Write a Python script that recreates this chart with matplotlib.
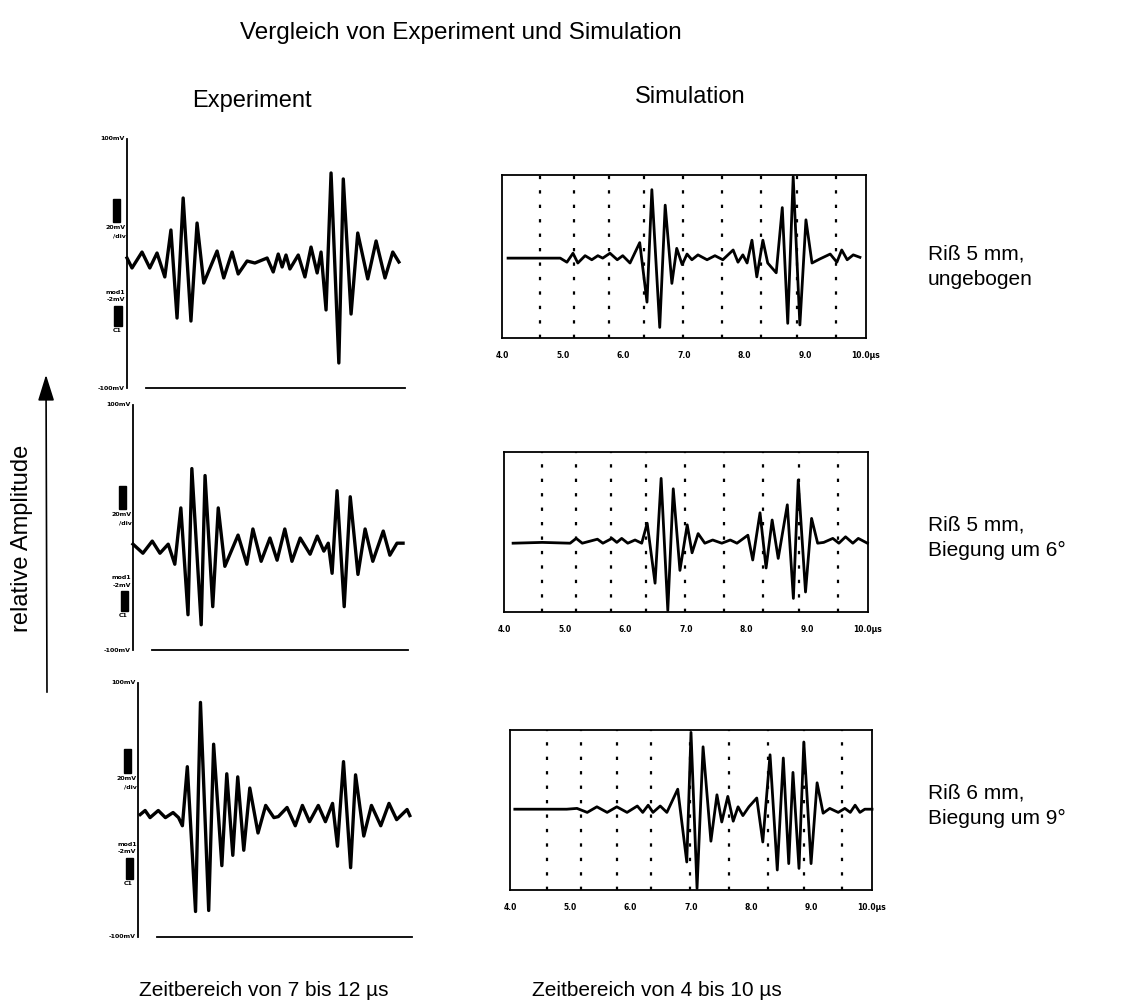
import matplotlib
matplotlib.use('Agg')
import matplotlib.pyplot as plt
from matplotlib.patches import Rectangle, FancyArrowPatch

plt.rcParams['font.family'] = ['Liberation Sans', 'DejaVu Sans']

W, H = 1123, 1007

# ---- Experiment (oscilloscope traces, 7..12 us, mV) : peaks / troughs
exp1_t = [7.00, 7.09, 7.27, 7.41, 7.54, 7.68, 7.79, 7.90, 8.01, 8.15, 8.26, 8.38, 8.62, 8.74,
          8.89, 9.00, 9.16, 9.30, 9.52, 9.63, 9.72, 9.79, 9.86, 9.93, 10.08, 10.20, 10.31,
          10.42, 10.49, 10.58, 10.67, 10.81, 10.89, 11.03, 11.15, 11.33, 11.48, 11.64, 11.78, 11.89]
exp1_a = [4.4, -3.6, 9.2, -3.6, 8.4, -10.8, 26.9, -43.8, 52.6, -46.2, 32.5, -15.7, 10.0, -11.6,
          9.2, -8.4, 2.0, 0.4, 4.4, -6.8, 7.6, -2.8, 6.8, -4.4, 6.8, -10.8, 13.2,
          -7.6, 9.2, -37.3, 72.7, -79.9, 67.9, -40.6, 24.5, -12.4, 18.1, -11.6, 9.2, 1.2]

exp2_t = [7.00, 7.18, 7.35, 7.49, 7.64, 7.76, 7.87, 8.00, 8.07, 8.24, 8.31, 8.45, 8.55, 8.67,
          8.91, 9.07, 9.18, 9.33, 9.49, 9.62, 9.76, 9.89, 10.04, 10.22, 10.35, 10.47, 10.55,
          10.62, 10.71, 10.84, 10.95, 11.09, 11.22, 11.36, 11.55, 11.67, 11.80, 11.91]
exp2_a = [-13.6, -21.0, -11.1, -21.0, -13.6, -30.0, 16.0, -71.2, 48.1, -79.4, 42.4, -64.6, 16.0, -31.7,
          -6.2, -30.0, -1.2, -27.6, -8.6, -26.7, -1.2, -27.6, -8.6, -21.8, -7.0, -19.3, -12.8,
          -37.4, 30.0, -64.6, 25.1, -38.3, -1.2, -27.6, -2.9, -22.6, -12.8, -12.8]

exp3_t = [7.04, 7.13, 7.22, 7.37, 7.50, 7.64, 7.74, 7.81, 7.90, 8.05, 8.14, 8.29, 8.38, 8.53,
          8.62, 8.73, 8.82, 8.93, 9.04, 9.19, 9.33, 9.48, 9.56, 9.72, 9.87, 10.00, 10.13, 10.29,
          10.42, 10.55, 10.64, 10.75, 10.88, 10.97, 11.12, 11.26, 11.43, 11.58, 11.72, 11.91, 11.96]
exp3_a = [-3.6, -0.4, -6.0, -0.4, -6.0, -2.0, -6.0, -12.4, 34.1, -79.9, 84.7, -79.1, 51.8, -43.8,
          28.5, -35.7, 26.1, -31.7, 17.3, -18.1, 3.6, -6.0, -5.2, 2.0, -12.4, 3.6, -9.2, 3.6,
          -9.2, 5.2, -28.5, 38.1, -45.4, 27.7, -20.5, 3.6, -12.4, 5.2, -7.6, 0.4, -4.4]

# trace level (mV) of each scope screen, used for the little channel markers
exp_level = [1, -17, -3]

# ---- Simulation (4..10 us, normalised amplitude)
sim1_t = [4.10, 4.96, 5.07, 5.17, 5.25, 5.37, 5.48, 5.58, 5.66, 5.78, 5.90, 5.99, 6.11, 6.27,
          6.39, 6.47, 6.60, 6.69, 6.80, 6.88, 6.97, 7.05, 7.13, 7.23, 7.38, 7.51, 7.64, 7.81,
          7.89, 7.97, 8.04, 8.12, 8.20, 8.30, 8.38, 8.52, 8.62, 8.71, 8.80, 8.91, 9.01, 9.11,
          9.24, 9.41, 9.52, 9.60, 9.69, 9.79, 9.90]
sim1_a = [-0.02, -0.02, -0.07, 0.04, -0.08, 0.01, -0.04, 0.01, -0.02, 0.04, -0.04, 0.01, -0.08, 0.17,
          -0.56, 0.82, -0.87, 0.63, -0.33, 0.10, -0.10, 0.03, -0.04, 0.02, -0.04, 0.01, -0.04, 0.08,
          -0.07, 0.02, -0.08, 0.20, -0.25, 0.20, -0.08, -0.20, 0.60, -0.82, 0.98, -0.84, 0.45, -0.08,
          -0.03, 0.03, -0.07, 0.08, -0.04, 0.02, -0.01]

sim2_t = [4.15, 4.63, 5.09, 5.19, 5.29, 5.54, 5.63, 5.78, 5.86, 5.94, 6.04, 6.16, 6.27, 6.36,
          6.49, 6.59, 6.70, 6.79, 6.90, 7.02, 7.10, 7.20, 7.31, 7.44, 7.59, 7.73, 7.84, 8.02,
          8.10, 8.22, 8.32, 8.42, 8.52, 8.67, 8.77, 8.85, 8.97, 9.07, 9.17, 9.27, 9.42, 9.52,
          9.63, 9.75, 9.84, 9.99]
sim2_a = [0.0, 0.01, 0.0, 0.06, 0.0, 0.05, 0.0, 0.06, 0.01, 0.06, 0.0, 0.04, 0.0, 0.25,
          -0.50, 0.81, -0.84, 0.68, -0.34, 0.23, -0.12, 0.12, 0.0, 0.04, 0.0, 0.04, 0.0, 0.10,
          -0.21, 0.38, -0.31, 0.29, -0.19, 0.48, -0.69, 0.79, -0.61, 0.31, 0.0, 0.01, 0.06, 0.0,
          0.08, 0.0, 0.06, 0.0]

sim3_t = [4.08, 4.94, 5.11, 5.28, 5.44, 5.61, 5.77, 5.94, 6.11, 6.20, 6.29, 6.37, 6.49, 6.60,
          6.78, 6.93, 7.00, 7.10, 7.20, 7.33, 7.43, 7.51, 7.61, 7.70, 7.78, 7.86, 7.96, 8.09,
          8.19, 8.31, 8.43, 8.53, 8.62, 8.69, 8.79, 8.87, 8.99, 9.09, 9.19, 9.30, 9.44, 9.55,
          9.64, 9.72, 9.80, 9.88, 10.0]
sim3_a = [0.0, 0.0, 0.01, -0.04, 0.03, -0.04, 0.03, -0.04, 0.04, -0.04, 0.05, -0.04, 0.04, -0.04,
          0.25, -0.66, 0.96, -0.99, 0.78, -0.40, 0.18, -0.16, 0.16, -0.15, 0.03, -0.08, 0.03, 0.14,
          -0.41, 0.68, -0.76, 0.64, -0.68, 0.46, -0.74, 0.84, -0.68, 0.33, -0.05, 0.01, -0.04, 0.01,
          -0.04, 0.05, -0.04, 0.0, 0.0]

sim_ylim = [(-1.0, 1.0), (-0.86, 1.14), (-1.01, 0.99)]
sim_grid = [4.62, 5.18, 5.77, 6.34, 6.98, 7.63, 8.27, 8.87, 9.50]
sim_ticks = [4, 5, 6, 7, 8, 9, 10]
sim_ticklabels = ['4.0', '5.0', '6.0', '7.0', '8.0', '9.0', '10.0µs']

case_labels = ['Riß 5 mm,\nungebogen', 'Riß 5 mm,\nBiegung um 6°', 'Riß 6 mm,\nBiegung um 9°']

exp_data = [(exp1_t, exp1_a), (exp2_t, exp2_a), (exp3_t, exp3_a)]
sim_data = [(sim1_t, sim1_a), (sim2_t, sim2_a), (sim3_t, sim3_a)]

# pixel boxes (left, top, right, bottom)
exp_boxes = [(127, 139, 405, 388), (133, 405, 408, 650), (138, 683, 412, 937)]
sim_boxes = [(502, 175, 866, 338), (504, 452, 868, 612), (510, 730, 872, 890)]
label_y = [267, 538, 806]

fig = plt.figure(figsize=(W / 100, H / 100), dpi=100)
fig.patch.set_facecolor('white')


def px_axes(box):
    l, t, r, b = box
    return fig.add_axes([l / W, 1 - b / H, (r - l) / W, (b - t) / H])


def scope_text(ax, x, y, s):
    ax.text(x, y, s, transform=ax.get_yaxis_transform(), ha='right', va='center',
            fontsize=4.5, fontweight='bold', family='DejaVu Sans')


# experiment: scope screenshots
for i, ((t, a), box) in enumerate(zip(exp_data, exp_boxes)):
    ax = px_axes(box)
    ax.plot(t, a, color='black', lw=2.4, solid_joinstyle='round', clip_on=False)
    ax.set_xlim(7, 12)
    ax.set_ylim(-100, 100)
    for s in ['top', 'right', 'bottom']:
        ax.spines[s].set_visible(False)
    ax.spines['left'].set_linewidth(1.3)
    ax.axhline(-100, xmin=0.07, xmax=1.0, color='black', lw=1.3, clip_on=False)
    ax.set_xticks([])
    ax.set_yticks([])
    tr = ax.get_yaxis_transform()
    lv = exp_level[i]
    scope_text(ax, -0.01, 100, '100mV')
    scope_text(ax, -0.01, -100, '-100mV')
    ax.add_patch(Rectangle((-0.052, lv + 32), 0.026, 19, transform=tr,
                           color='black', clip_on=False))
    scope_text(ax, -0.005, lv + 28, '20mV')
    scope_text(ax, -0.005, lv + 21, '/div')
    scope_text(ax, -0.005, lv - 24, 'mod1')
    scope_text(ax, -0.005, lv - 30, '-2mV')
    ax.add_patch(Rectangle((-0.045, lv - 51), 0.026, 16, transform=tr,
                           color='black', clip_on=False))
    scope_text(ax, -0.02, lv - 55, 'C1')

# simulation panels
for i, ((t, a), box) in enumerate(zip(sim_data, sim_boxes)):
    ax = px_axes(box)
    for g in sim_grid:
        ax.axvline(g, color='black', lw=1.6, linestyle=(0, (1.5, 5)))
    ax.plot(t, a, color='black', lw=2.0, solid_joinstyle='round', clip_on=False, zorder=3)
    ax.set_xlim(4, 10)
    ax.set_ylim(*sim_ylim[i])
    for s in ax.spines.values():
        s.set_linewidth(1.3)
    ax.set_yticks([])
    ax.set_xticks(sim_ticks)
    ax.set_xticklabels(sim_ticklabels, fontsize=5.5, fontweight='bold', family='DejaVu Sans')
    ax.tick_params(axis='x', length=0, pad=9)
    fig.text(928 / W, 1 - label_y[i] / H, case_labels[i], ha='left', va='center',
             fontsize=15, linespacing=1.45)

fig.text(461 / W, 1 - 33 / H, 'Vergleich von Experiment und Simulation',
         ha='center', va='center', fontsize=17.5)
fig.text(252 / W, 1 - 101 / H, 'Experiment', ha='center', va='center', fontsize=17)
fig.text(690 / W, 1 - 97 / H, 'Simulation', ha='center', va='center', fontsize=17)
fig.text(264 / W, 1 - 990 / H, 'Zeitbereich von 7 bis 12 µs', ha='center', va='center', fontsize=15)
fig.text(657 / W, 1 - 990 / H, 'Zeitbereich von 4 bis 10 µs', ha='center', va='center', fontsize=15)
fig.text(22 / W, 1 - 538 / H, 'relative Amplitude', ha='center', va='center',
         rotation=90, fontsize=17)
fig.add_artist(FancyArrowPatch(
    (47 / W, 1 - 695 / H), (46 / W, 1 - 372 / H), transform=fig.transFigure,
    arrowstyle='-|>,head_length=16,head_width=5', mutation_scale=1, lw=1.2, color='black'))

fig.savefig('out.png', dpi=100, facecolor='white')
